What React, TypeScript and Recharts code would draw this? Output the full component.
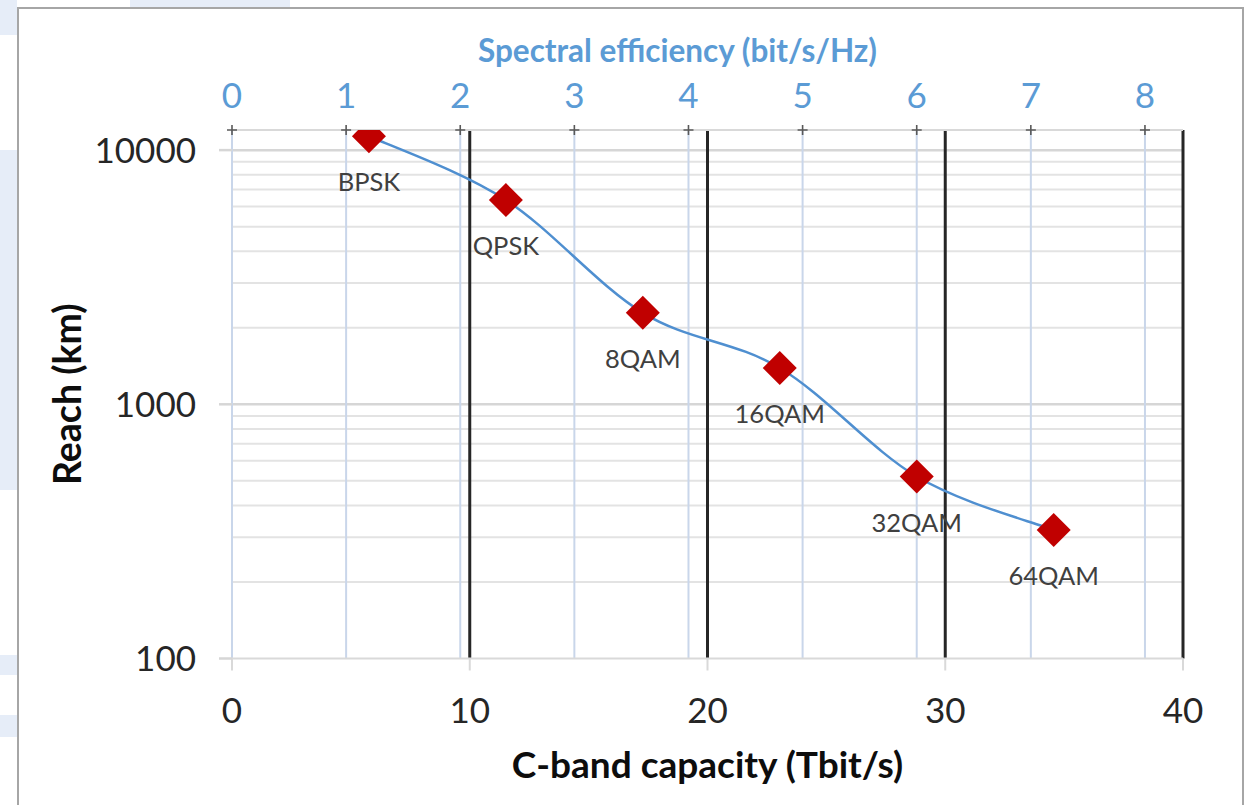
import React from 'react';
import { LineChart, Line, XAxis, YAxis, ReferenceLine, LabelList, Label } from 'recharts';

// modulation formats and what they reach
const modulations = ['BPSK', 'QPSK', '8QAM', '16QAM', '32QAM', '64QAM'];
const capacityTbps = [5.76, 11.52, 17.28, 23.04, 28.8, 34.56];
const reachKm = [11350, 6360, 2290, 1390, 520, 320];

// axes
const C_BAND_THZ = 4.8; // spectral efficiency = capacity / bandwidth
const capacityTicks = [0, 10, 20, 30, 40];
const capacityDarkGrid = [10, 20, 30, 40];
const seTicks = [0, 1, 2, 3, 4, 5, 6, 7, 8];
const reachTicks = [100, 1000, 10000];
const reachMajorGrid = [1000, 10000];
const reachMinorGrid = [200, 300, 400, 500, 600, 700, 800, 900, 2000, 3000, 4000, 5000, 6000, 7000, 8000, 9000];

const data = modulations.map((name, i) => ({
  name,
  capacity: capacityTbps[i],
  se: capacityTbps[i] / C_BAND_THZ,
  reach: reachKm[i],
}));

const FONT = 'Lato, "Open Sans", sans-serif';
const BLUE = '#5B9BD5';

// Excel-style smoothed line (catmull-rom through every point)
const excelSmooth = (context: any) => {
  let pts: number[][] = [];
  return {
    areaStart() {},
    areaEnd() {},
    lineStart() {
      pts = [];
    },
    point(x: number, y: number) {
      pts.push([x, y]);
    },
    lineEnd() {
      if (!pts.length) return;
      context.moveTo(pts[0][0], pts[0][1]);
      for (let i = 0; i < pts.length - 1; i++) {
        const p0 = pts[Math.max(i - 1, 0)];
        const p1 = pts[i];
        const p2 = pts[i + 1];
        const p3 = pts[Math.min(i + 2, pts.length - 1)];
        context.bezierCurveTo(
          p1[0] + (p2[0] - p0[0]) / 6, p1[1] + (p2[1] - p0[1]) / 6,
          p2[0] - (p3[0] - p1[0]) / 6, p2[1] - (p3[1] - p1[1]) / 6,
          p2[0], p2[1]
        );
      }
    },
  };
};

const Diamond = (props: any) => {
  const { cx, cy, index } = props;
  const r = 17;
  return (
    <polygon
      key={`d-${index}`}
      points={`${cx},${cy - r} ${cx + r},${cy} ${cx},${cy + r} ${cx - r},${cy}`}
      fill="#C00000"
    />
  );
};

const SeTick = (props: any) => {
  const { x, y, payload } = props;
  const axisY = y + 22;
  return (
    <g>
      <text x={x} y={y} textAnchor="middle" fill={BLUE} fontSize={35} fontFamily={FONT}>
        {payload.value}
      </text>
      <path d={`M${x - 5},${axisY}h10M${x},${axisY - 5}v10`} stroke="#595959" strokeWidth={1.6} />
    </g>
  );
};

const TopTitle = (props: any) => {
  const { viewBox } = props;
  return (
    <text
      x={viewBox.x + viewBox.width / 2 - 30}
      y={viewBox.y + 62}
      textAnchor="middle"
      fill={BLUE}
      fontSize={31.5}
      fontWeight={700}
      fontFamily={FONT}
    >
      Spectral efficiency (bit/s/Hz)
    </text>
  );
};

const LeftTitle = (props: any) => {
  const { viewBox } = props;
  const cx = viewBox.x + 66;
  const cy = viewBox.y + viewBox.height / 2;
  return (
    <text
      x={cx}
      y={cy}
      transform={`rotate(-90, ${cx}, ${cy})`}
      textAnchor="middle"
      dominantBaseline="central"
      fill="#0d0d0d"
      fontSize={37.5}
      fontWeight={700}
      fontFamily={FONT}
    >
      Reach (km)
    </text>
  );
};

export default function App() {
  return (
    <div style={{ position: 'absolute', left: 0, top: 0, width: 1250, height: 805, background: '#fff', overflow: 'hidden' }}>
      {/* slide watermark peeking out around the frame */}
      <svg width={1250} height={805} style={{ position: 'absolute', left: 0, top: 0 }}>
        <rect x={0} y={0} width={17} height={35} fill="#e6edf8" />
        <rect x={0} y={150} width={17} height={340} fill="#e6edf8" />
        <rect x={0} y={655} width={17} height={20} fill="#e6edf8" />
        <rect x={0} y={715} width={17} height={22} fill="#e6edf8" />
        <rect x={130} y={0} width={160} height={7} fill="#e6edf8" />
      </svg>
      <div
        style={{
          position: 'absolute',
          left: 17,
          top: 7,
          width: 1227,
          height: 820,
          border: '2px solid #a6a6a6',
          boxSizing: 'border-box',
          background: '#fff',
        }}
      />
      <div style={{ position: 'absolute', left: 0, top: 0 }}>
        <LineChart width={1250} height={805} data={data} margin={{ top: 0, right: 67, bottom: 24.5, left: 0 }}>
          <XAxis
            dataKey="capacity"
            type="number"
            domain={[0, 40]}
            ticks={capacityTicks}
            interval={0}
            allowDataOverflow
            height={122}
            axisLine={{ stroke: '#d9d9d9', strokeWidth: 2 }}
            tickLine={{ stroke: '#d9d9d9', strokeWidth: 2 }}
            tickSize={12}
            tickMargin={28}
            tick={{ fill: '#262626', fontSize: 35, fontFamily: FONT }}
          >
            <Label
              value="C-band capacity (Tbit/s)"
              position="insideBottom"
              offset={2.5}
              fill="#0d0d0d"
              fontSize={37}
              fontWeight={700}
              fontFamily={FONT}
            />
          </XAxis>
          <XAxis
            xAxisId="se"
            dataKey="se"
            type="number"
            orientation="top"
            domain={[0, 40 / C_BAND_THZ]}
            ticks={seTicks}
            interval={0}
            allowDataOverflow
            height={130}
            axisLine={{ stroke: '#d9d9d9', strokeWidth: 2 }}
            tickLine={false}
            tickSize={0}
            tickMargin={22}
            tick={<SeTick />}
          >
            <Label content={<TopTitle />} />
          </XAxis>
          <YAxis
            scale="log"
            domain={[100, 12000]}
            ticks={reachTicks}
            interval={0}
            allowDataOverflow
            width={232}
            axisLine={false}
            tickLine={{ stroke: '#d6d6d6', strokeWidth: 2.5 }}
            tickSize={13}
            tickMargin={23}
            tick={{ fill: '#262626', fontSize: 35, fontFamily: FONT }}
          >
            <Label content={<LeftTitle />} />
          </YAxis>

          {reachMinorGrid.map((v) => (
            <ReferenceLine key={`mn-${v}`} y={v} stroke="#e3e3e3" strokeWidth={2} />
          ))}
          {reachMajorGrid.map((v) => (
            <ReferenceLine key={`mj-${v}`} y={v} stroke="#d6d6d6" strokeWidth={2.5} />
          ))}
          {seTicks.map((v) => (
            <ReferenceLine key={`se-${v}`} xAxisId="se" x={v} stroke="#c9d6ea" strokeWidth={2} />
          ))}
          {capacityDarkGrid.map((v) => (
            <ReferenceLine key={`cap-${v}`} x={v} stroke="#262626" strokeWidth={3} />
          ))}

          <Line
            dataKey="reach"
            type={excelSmooth as any}
            stroke="#4F8FD0"
            strokeWidth={2.5}
            dot={(p: any) => <Diamond key={`dot-${p.index}`} {...p} />}
            activeDot={false}
            isAnimationActive={false}
          >
            <LabelList dataKey="name" position="bottom" offset={37} fill="#404040" fontSize={25.5} fontFamily={FONT} />
          </Line>
        </LineChart>
      </div>
    </div>
  );
}
